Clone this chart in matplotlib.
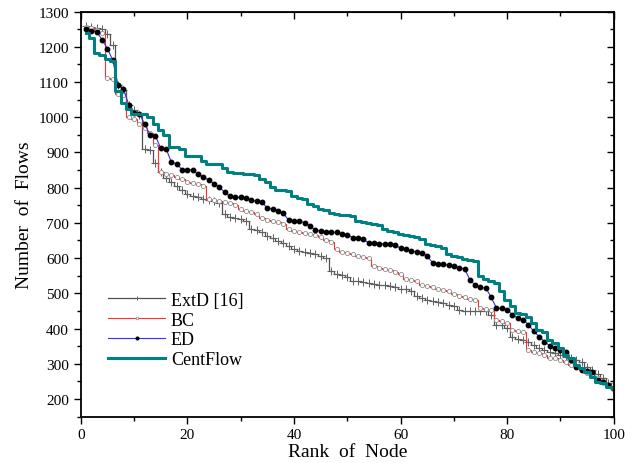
import matplotlib
matplotlib.use("Agg")
import matplotlib.pyplot as plt
import numpy as np

plt.rcParams['font.family'] = ['Liberation Serif', 'DejaVu Serif']

rank = np.arange(1, 101)

extd = [1258, 1256, 1252, 1250, 1237, 1206, 1090, 1077, 1034, 1020,
        1006, 911, 906, 870, 845, 828, 815, 805, 792, 782,
        777, 773, 768, 765, 761, 755, 725, 717, 714, 711,
        706, 682, 679, 673, 663, 658, 649, 644, 635, 625,
        620, 618, 615, 611, 606, 599, 563, 555, 552, 546,
        536, 534, 532, 530, 527, 525, 523, 520, 517, 513,
        511, 506, 492, 487, 482, 479, 475, 472, 468, 463,
        453, 451, 451, 451, 449, 449, 439, 411, 409, 401,
        377, 371, 368, 361, 353, 346, 339, 334, 330, 325,
        320, 315, 311, 306, 290, 282, 270, 260, 245, 235]

bc = [1255, 1252, 1248, 1240, 1112, 1108, 1065, 1063, 1000, 995,
      980, 970, 955, 920, 845, 840, 835, 830, 825, 815,
      813, 811, 806, 768, 766, 763, 760, 756, 750, 739,
      735, 730, 725, 714, 708, 706, 702, 698, 682, 677,
      674, 671, 668, 665, 660, 650, 645, 625, 618, 615,
      611, 606, 603, 601, 577, 572, 568, 565, 560, 555,
      541, 537, 534, 523, 520, 517, 513, 510, 506, 498,
      491, 489, 485, 482, 458, 456, 453, 425, 420, 416,
      396, 394, 391, 339, 334, 330, 325, 317, 315, 311,
      306, 296, 290, 282, 275, 266, 260, 250, 240, 225]

ed = [1250, 1244, 1243, 1220, 1195, 1162, 1091, 1080, 1036, 1012,
      1010, 980, 950, 947, 912, 911, 872, 868, 851, 851,
      850, 839, 830, 822, 811, 801, 787, 775, 773, 773,
      771, 765, 761, 758, 742, 739, 735, 727, 708, 706,
      704, 701, 692, 679, 677, 675, 674, 673, 668, 666,
      658, 656, 653, 644, 644, 641, 641, 639, 637, 628,
      625, 620, 618, 615, 606, 587, 584, 582, 580, 577,
      572, 570, 539, 523, 517, 515, 489, 458, 458, 453,
      439, 430, 425, 411, 392, 377, 363, 351, 344, 339,
      334, 311, 292, 282, 279, 277, 253, 249, 239, 230]

centflow = [1240, 1225, 1182, 1178, 1165, 1160, 1075, 1040, 1022, 1010,
            1010, 1008, 1000, 980, 963, 949, 915, 915, 910, 891,
            889, 889, 875, 868, 868, 868, 856, 844, 843, 842,
            840, 839, 835, 825, 815, 801, 793, 793, 790, 777,
            772, 768, 753, 749, 739, 736, 727, 725, 723, 721,
            720, 706, 703, 700, 697, 694, 682, 678, 674, 668,
            665, 662, 659, 653, 639, 636, 633, 630, 612, 607,
            602, 597, 594, 591, 548, 540, 534, 529, 506, 482,
            463, 444, 440, 434, 415, 396, 391, 368, 360, 344,
            325, 315, 296, 287, 277, 263, 247, 244, 234, 230]

fig = plt.figure(figsize=(6.36, 4.64), dpi=100)
ax = fig.add_axes([0.127, 0.100, 0.838, 0.873])

ax.plot(rank, extd, drawstyle='steps-mid', color='#505050', lw=0.9,
        marker='+', ms=6, mec='#606060', mew=0.7, label='ExtD [16]')
ax.plot(rank, bc, drawstyle='steps-mid', color='#ff3030', lw=0.8,
        marker='o', ms=3, mfc='white', mec='#909090', mew=0.6, label='BC')
ax.plot(rank, ed, color='#3030ff', lw=0.8,
        marker='o', ms=3.2, mfc='black', mec='black', label='ED')
ax.plot(rank, centflow, drawstyle='steps-mid', color='#008080', lw=2.2,
        label='CentFlow')

ax.set_xlim(0, 100)
ax.set_ylim(150, 1300)
ax.set_xticks(np.arange(0, 101, 20))
ax.set_xticks(np.arange(0, 101, 10), minor=True)
ax.set_yticks(np.arange(200, 1301, 100))
ax.set_yticks(np.arange(150, 1301, 50), minor=True)
ax.tick_params(which='both', labelsize=11, direction='out')
ax.tick_params(which='major', length=5, width=1)
ax.tick_params(which='minor', length=3, width=1)
for s in ax.spines.values():
    s.set_linewidth(1.3)

# mirrored ticks on top/right point inwards
ax2 = ax.secondary_xaxis('top')
ax2.set_xticks(np.arange(0, 101, 20))
ax2.set_xticks(np.arange(0, 101, 10), minor=True)
ax2.tick_params(which='both', direction='in', labeltop=False)
ax2.tick_params(which='major', length=5, width=1)
ax2.tick_params(which='minor', length=3, width=1)
ax3 = ax.secondary_yaxis('right')
ax3.set_yticks(np.arange(200, 1301, 100))
ax3.set_yticks(np.arange(150, 1301, 50), minor=True)
ax3.tick_params(which='both', direction='in', labelright=False)
ax3.tick_params(which='major', length=5, width=1)
ax3.tick_params(which='minor', length=3, width=1)

ax.set_xlabel('Rank  of  Node', fontsize=14, labelpad=1)
ax.set_ylabel('Number  of  Flows', fontsize=14, labelpad=4)

ax.legend(loc='lower left', bbox_to_anchor=(0.02, 0.08), frameon=False,
          fontsize=13, handlelength=3.2, handletextpad=0.3,
          labelspacing=0.15, markerscale=0.6)

fig.savefig('out.png', dpi=100)
